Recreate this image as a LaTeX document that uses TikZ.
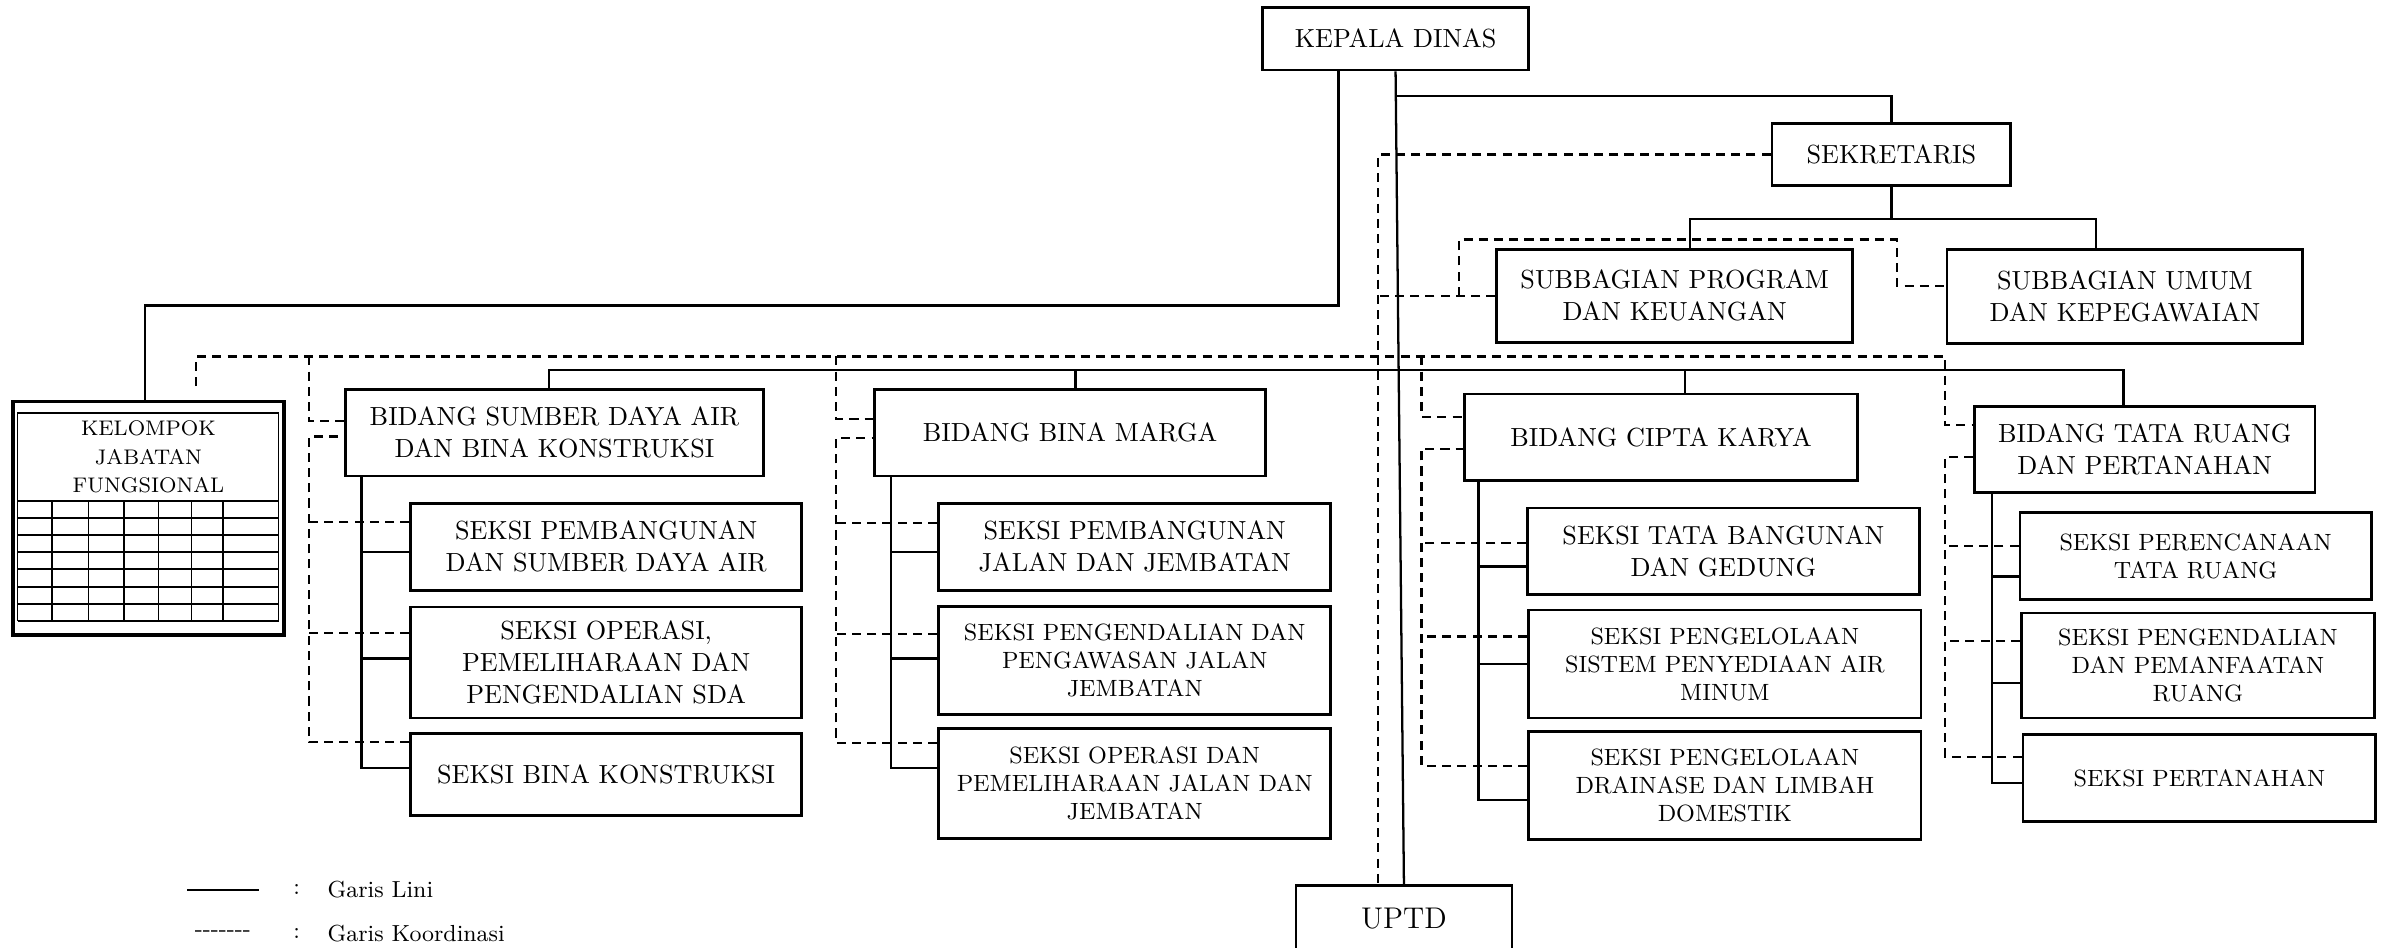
\documentclass[tikz,border=0pt]{standalone}
\usepackage{fontspec}
\begin{document}
\begin{tikzpicture}[x=0.02cm, y=-0.02cm,
  kotak/.style={draw, line width=1.05pt, rectangle, align=center, inner sep=0pt, font=\fontsize{9.8}{12}\selectfont},
  kecil/.style={kotak, font=\fontsize{8.8}{10.5}\selectfont},
  lini/.style={line width=0.85pt},
  koord/.style={line width=0.85pt, dash pattern=on 3.4pt off 2.3pt}]
\useasboundingbox (0,0) rectangle (1568,623);
\clip (0,0) rectangle (1568,623);

% pimpinan dan sekretariat
\node(KD)[kotak, minimum width=3.5cm, minimum height=0.82cm] at (917.5,25.5) {KEPALA DINAS};
\node(Sek)[kotak, minimum width=3.14cm, minimum height=0.82cm] at (1243.5,101.5) {SEKRETARIS};
\node(SubProg)[kotak, minimum width=4.68cm, minimum height=1.22cm] at (1101,194.5) {SUBBAGIAN PROGRAM\\DAN KEUANGAN};
\node(SubUmum)[kotak, minimum width=4.68cm, minimum height=1.24cm] at (1397,195) {SUBBAGIAN UMUM\\DAN KEPEGAWAIAN};
\node(UPTD)[kotak, font=\fontsize{11.2}{13}\selectfont, minimum width=2.84cm, minimum height=0.88cm] at (923,604) {UPTD};

% kelompok jabatan fungsional
\node(KJF)[draw, line width=1.4pt, minimum width=3.56cm, minimum height=3.07cm, inner sep=0pt] at (97.6,340.75) {};
\node(KJFteks)[align=center, inner sep=0pt, font=\fontsize{7.9}{10.6}\selectfont] at (97.6,300.5) {KELOMPOK\\JABATAN\\FUNGSIONAL};
\draw[line width=0.4pt] (11.8,408.3) |- (183.4,271.5) -- (183.4,408.3);
\foreach \y in {329.4,340.6,351.7,362.9,374.1,385.9,397.1,408.3}
  \draw[line width=0.6pt] (11.8,\y) -- (183.4,\y);
\foreach \x in {34.2,57.9,81.5,104.5,126.2,146.6}
  \draw[line width=0.4pt] (\x,329.4) -- (\x,408.3);

% bidang sumber daya air
\node(Bid1)[kotak, minimum width=5.5cm, minimum height=1.14cm] at (364.5,284.5) {BIDANG SUMBER DAYA AIR\\DAN BINA KONSTRUKSI};
\node(S11)[kotak, minimum width=5.14cm, minimum height=1.14cm] at (398.5,359.5) {SEKSI PEMBANGUNAN\\DAN SUMBER DAYA AIR};
\node(S12)[kotak, minimum width=5.14cm, minimum height=1.46cm] at (398.5,435.5) {SEKSI OPERASI,\\PEMELIHARAAN DAN\\PENGENDALIAN SDA};
\node(S13)[kotak, minimum width=5.14cm, minimum height=1.08cm] at (398.5,509) {SEKSI BINA KONSTRUKSI};

% bidang bina marga
\node(Bid2)[kotak, minimum width=5.14cm, minimum height=1.14cm] at (703.5,284.5) {BIDANG BINA MARGA};
\node(S21)[kotak, minimum width=5.16cm, minimum height=1.14cm] at (746,359.5) {SEKSI PEMBANGUNAN\\JALAN DAN JEMBATAN};
\node(S22)[kecil, minimum width=5.16cm, minimum height=1.42cm] at (746,434) {SEKSI PENGENDALIAN DAN\\PENGAWASAN JALAN\\JEMBATAN};
\node(S23)[kecil, minimum width=5.16cm, minimum height=1.44cm] at (746,515) {SEKSI OPERASI DAN\\PEMELIHARAAN JALAN DAN\\JEMBATAN};

% bidang cipta karya
\node(Bid3)[kotak, minimum width=5.16cm, minimum height=1.14cm] at (1092,287.5) {BIDANG CIPTA KARYA};
\node(S31)[kotak, minimum width=5.16cm, minimum height=1.14cm] at (1133,362.5) {SEKSI TATA BANGUNAN\\DAN GEDUNG};
\node(S32)[kecil, minimum width=5.16cm, minimum height=1.42cm] at (1134,436.5) {SEKSI PENGELOLAAN\\SISTEM PENYEDIAAN AIR\\MINUM};
\node(S33)[kecil, minimum width=5.16cm, minimum height=1.42cm] at (1134,516.5) {SEKSI PENGELOLAAN\\DRAINASE DAN LIMBAH\\DOMESTIK};

% bidang tata ruang
\node(Bid4)[kotak, minimum width=4.48cm, minimum height=1.14cm] at (1410,295.5) {BIDANG TATA RUANG\\DAN PERTANAHAN};
\node(S41)[kecil, minimum width=4.62cm, minimum height=1.14cm] at (1443.5,365.5) {SEKSI PERENCANAAN\\TATA RUANG};
\node(S42)[kecil, minimum width=4.64cm, minimum height=1.38cm] at (1445,437.5) {SEKSI PENGENDALIAN\\DAN PEMANFAATAN\\RUANG};
\node(S43)[kecil, minimum width=4.64cm, minimum height=1.14cm] at (1446,511.5) {SEKSI PERTANAHAN};

% garis lini
\draw[lini] (KD.south) -- (UPTD.north);
\draw[lini] ([xshift=-0.75cm]KD.south) -- ++(0,154) -| ([xshift=-0.05cm]KJF.north);
\draw[lini] (KD.south) ++(0,16) -| (Sek.north);
\draw[lini] (Sek.south) -- ++(0,21) coordinate (SekB);
\draw[lini] ([xshift=0.2cm]SubProg.north) |- (SekB) -| ([xshift=-0.38cm]SubUmum.north);
\draw[lini] ([xshift=-0.07cm]Bid1.north) -- ++(0,-12) -| ([xshift=-0.28cm]Bid4.north);
\draw[lini] ([xshift=0.07cm]Bid2.north) -- ++(0,-12);
\draw[lini] ([xshift=0.32cm]Bid3.north) -- ++(0,-15.5);

\coordinate (T1) at ([xshift=0.23cm]Bid1.south west);
\coordinate (T2) at ([xshift=0.23cm]Bid2.south west);
\coordinate (T3) at ([xshift=0.2cm]Bid3.south west);
\coordinate (T4) at ([xshift=0.25cm]Bid4.south west);
\draw[lini] (T1) |- ([yshift=0.08cm]S13.west);
\draw[lini] (T2) |- ([yshift=0.2cm]S23.west);
\draw[lini] (T3) |- ([yshift=-0.19cm]S33.west);
\draw[lini] (T4) |- ([yshift=-0.07cm]S43.west);
\foreach \s/\d/\t in {S11/-0.07/T1, S12/0.05/T1, S21/-0.07/T2, S22/0.02/T2,
                      S31/-0.2/T3, S32/0/T3, S41/-0.27/T4, S42/-0.23/T4}
  \draw[lini] ([yshift=\d cm]\s.west) -| (\t);

% garis koordinasi
\coordinate (KV) at ([xshift=-0.34cm]UPTD.north);
\draw[koord] (Sek.west) -| (KV);
\draw[koord] (SubProg.west) -- (SubProg.west -| KV);
\coordinate (W2) at ([yshift=0.14cm]SubUmum.west);
\draw[koord] ([xshift=-0.48cm]SubProg.west) -- ++(0,-37) -| ([xshift=-0.64cm]W2) -- (W2);

\coordinate (KBus) at ([xshift=0.63cm,yshift=0.57cm]KJF.north);
\coordinate (D1) at ([xshift=-0.46cm]Bid1.west);
\coordinate (D2) at ([xshift=-0.49cm]Bid2.west);
\coordinate (D3) at ([xshift=-0.55cm]Bid3.west);
\coordinate (D4) at ([xshift=-0.37cm]Bid4.west);
\coordinate (U1) at ([yshift=0.15cm]Bid1.west);
\coordinate (U2) at ([yshift=0.18cm]Bid2.west);
\coordinate (U3) at ([yshift=0.27cm]Bid3.west);
\coordinate (U4) at ([yshift=0.32cm]Bid4.west);
\draw[koord] ([xshift=0.63cm,yshift=0.18cm]KJF.north) -- (KBus) -| (U4 -| D4) -- (U4);
\draw[koord] (KBus -| D1) |- (U1);
\draw[koord] (KBus -| D2) |- (U2);
\draw[koord] (KBus -| D3) |- (U3);

\draw[koord] ([yshift=0.42cm]S13.west) -| ([yshift=-0.05cm]D1) -- ([yshift=-0.05cm]Bid1.west);
\draw[koord] ([yshift=0.53cm]S23.west) -| ([yshift=-0.07cm]D2) -- ([yshift=-0.07cm]Bid2.west);
\draw[koord] ([yshift=0.26cm]S33.west) -| ([yshift=-0.15cm]D3) -- ([yshift=-0.15cm]Bid3.west);
\draw[koord] ([yshift=0.28cm]S43.west) -| ([yshift=-0.1cm]D4) -- ([yshift=-0.1cm]Bid4.west);
\foreach \s/\d/\k in {S11/0.33/D1, S12/0.39/D1, S21/0.31/D2, S22/0.34/D2,
                      S31/0.11/D3, S32/0.36/D3, S41/0.13/D4, S42/0.32/D4}{
  \path ([yshift=\d cm]\s.west) coordinate (Q);
  \draw[koord] (Q) -- (Q -| \k);
}

% keterangan
\coordinate (G1) at (123,585);
\coordinate (G2) at (170,585);
\draw[line width=0.5pt] (G1) -- (G2);
\node(Tk1)[inner sep=0pt, font=\fontsize{8.7}{10}\selectfont] at (195,585) {:};
\node(Ket1)[anchor=west, inner sep=0pt, font=\fontsize{8.7}{10}\selectfont] at (215,585) {Garis Lini};
\node(Grs2)[inner sep=0pt, font=\fontsize{8.7}{10}\selectfont] at (146.5,614) {-{}-{}-{}-{}-{}-{}-};
\node(Tk2)[inner sep=0pt, font=\fontsize{8.7}{10}\selectfont] at (195,614) {:};
\node(Ket2)[anchor=west, inner sep=0pt, font=\fontsize{8.7}{10}\selectfont] at (215,614) {Garis Koordinasi};
\end{tikzpicture}
\end{document}
